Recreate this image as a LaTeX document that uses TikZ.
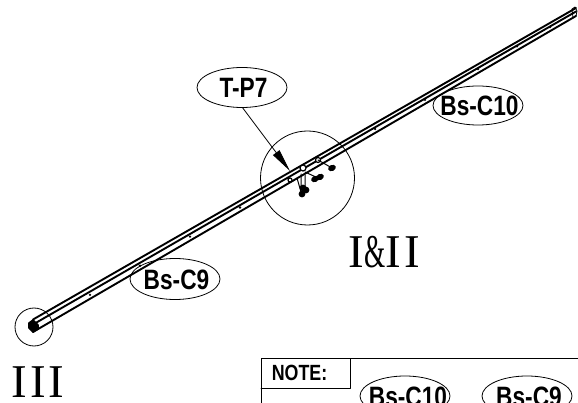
\documentclass[tikz,border=0pt]{standalone}
\usepackage{fontspec}
\setmainfont{Liberation Serif}
\newfontfamily\lblfont{Liberation Sans}
\usetikzlibrary{shapes.geometric,arrows.meta}
\newcommand{\callout}[1]{\raisebox{-10pt}[0pt][0pt]{\makebox[0pt]{\scalebox{0.81}[1]{\fontsize{28}{28}\selectfont\lblfont\bfseries #1}}}}
\tikzset{
	balloon/.style={draw,ellipse,inner sep=0pt,line width=0.8pt},
	railline/.style={line width=1.9pt},
	bolt/.style={line width=1pt},
	romanlbl/.style={inner sep=0pt,font=\fontsize{47}{47}\selectfont},
}
\begin{document}
\begin{tikzpicture}[x=1pt,y=-1pt,>=stealth,line join=round,line cap=round]
	\useasboundingbox (0,0) rectangle (578,403);
	\def\ra{33} \def\rb{576}
	
	\coordinate (railA) at (\ra,332);
	\coordinate (railB) at (\rb,16);
	\foreach \dl/\dr in {0/0,7.5/4.5,12.5/8} {
		\draw[railline] ([yshift=\dl pt]railA)--([yshift=\dr pt]railB);
	}
	% end faces
	\draw[line width=1.6pt,fill=black] (29,323)--(33,320)--(38,325)--(38,329)--(33,332)--(29,328)--cycle;
	\draw[line width=0.8pt] (572,9)--(575,7)--(577,11)--(576,16)--(573,18)--cycle;
	
	% small holes along the rail
	\foreach \x in {90,140,190,240,375,425,478,517,550} {
		\fill ({\x},{332-0.582*(\x-33)-4}) circle (1.3pt);
	}
	
	% bolts
	\coordinate (holeA) at (290,180);
	\coordinate (holeB) at (303,168);
	\coordinate (holeC) at (318,160);
	\draw[line width=1.2pt,fill=white] (holeA) circle (2pt) (holeB) circle (3pt) (holeC) circle (2.5pt);
	\draw[bolt] (holeC)--(332,168);
	\draw[bolt] (305,172)--(318,178);
	\draw[bolt] (297,178)--(301,192) (305,175)--(305,192) (301,174)--(301,190);
	\foreach \x/\y in {332/168,320/177,315/179} {
		\fill[rotate around={25:(\x,\y)}] (\x,\y) ellipse (4pt and 3pt);
	}
	\foreach \x/\y in {302/194,306/190,303/188} {
		\fill (\x,\y) circle (3.4pt);
	}
	
	\node (circMain) at (307.5,178) [draw,circle,inner sep=0pt,minimum size=94pt,line width=0.8pt]{};
	\node (circEnd) at (34,327) [draw,circle,inner sep=0pt,minimum size=38pt,line width=0.8pt]{};
	
	\node (tp) at (242,87.5) [balloon,minimum width=90pt,minimum height=40pt]{\kern3pt\callout{T-P7}};
	\node (bsTen) at (478,105.5) [balloon,minimum width=90pt,minimum height=39pt]{\kern3pt\callout{Bs-C10}};
	\node (bsNine) at (175,279) [balloon,minimum width=90pt,minimum height=41pt]{\kern3pt\callout{Bs-C9}};
	
	\coordinate (tipT) at (290,171);
	\draw[line width=0.8pt,-{Stealth[length=23pt,width=8pt,inset=0pt]}] (tp.272)--(tipT);
	
	\node (lblMain) at (384.5,252.5) [romanlbl]{I\scalebox{0.58}[1]{\&}I\kern3.4pt I};
	\node (lblEnd) at (38,382) [romanlbl]{I\kern3pt I\kern3pt I};
	
	% note table, runs off the sheet
	\coordinate (noteTL) at (261,358.5);
	\coordinate (noteTR) at (578,358.5);
	\coordinate (noteBL) at (261,403);
	\draw[line width=0.9pt] (noteBL)--(noteTL)--(noteTR);
	\draw[line width=0.9pt] (350,358.5)--(350,388.5)--(261,388.5);
	\node (noteLbl) at (299.5,373) {\scalebox{0.81}[1]{\fontsize{22}{22}\selectfont\lblfont\bfseries NOTE:}};
	\node (noteTen) at (405,396) [balloon,minimum width=90pt,minimum height=40pt]{\kern6pt\callout{Bs-C10}};
	\node (noteNine) at (527,396) [balloon,minimum width=90pt,minimum height=40pt]{\kern4pt\callout{Bs-C9}};
\end{tikzpicture}
\end{document}
